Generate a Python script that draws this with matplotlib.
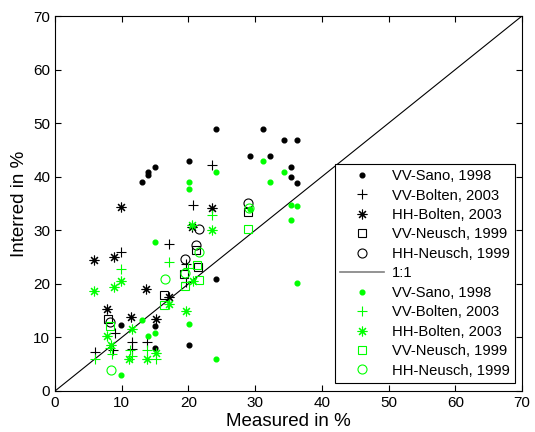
import matplotlib
matplotlib.use("Agg")
import matplotlib.pyplot as plt
import numpy as np

plt.rcParams['font.family'] = ['Liberation Sans', 'DejaVu Sans']

# ---- data (Measured %, Inferred %) ----
vv_sano_k = [(13.0,39.0),(14.0,40.8),(14.0,40.4),(14.95,41.9),(20.05,42.9),(24.15,49.0),
             (31.2,49.0),(34.3,46.8),(36.3,46.8),(29.25,43.9),(32.2,43.9),(35.3,41.9),
             (35.3,39.9),(36.3,38.9),(9.85,12.4),(14.95,12.2),(14.95,8.1),(20.05,8.5),(24.15,20.9)]
vv_bolten_k = [(23.55,42.2),(20.65,34.7),(9.85,25.9),(17.15,27.5),(19.6,23.7),(19.65,20.3),
               (6.0,7.2),(8.75,7.7),(9.0,10.9),(11.6,9.2),(11.6,7.8),(13.8,9.2)]
hh_bolten_k = [(9.85,34.3),(23.5,34.1),(5.9,24.4),(8.8,25.0),(13.7,18.95),(7.85,15.3),
               (11.35,13.8),(15.2,13.4),(17.15,17.6),(20.55,30.65)]
vv_neusch_k = [(29.0,33.45),(8.0,13.5),(16.4,17.9),(21.2,26.3),(21.5,23.2),(19.4,21.9)]
hh_neusch_k = [(29.0,35.1),(21.6,30.2),(21.2,27.2),(19.5,24.6),(8.2,12.8)]

vv_sano_g = [(20.05,39.0),(20.05,37.8),(24.15,40.8),(31.2,42.9),(34.3,40.8),(32.2,39.0),
             (35.3,34.65),(36.3,34.5),(35.3,32.0),(14.95,27.9),(20.05,12.6),(24.15,6.05),
             (9.9,2.9),(13.0,13.3),(14.0,10.35),(14.95,10.9),(36.25,20.1),(29.2,34.0)]
vv_bolten_g = [(23.5,32.8),(17.15,24.1),(9.85,22.7),(6.0,6.05),(8.6,7.0),(8.3,8.0),
               (11.3,7.7),(11.5,6.5),(13.75,7.7),(15.2,6.05),(20.0,23.0)]
hh_bolten_g = [(20.55,31.0),(23.5,30.0),(5.9,18.7),(8.8,19.45),(9.85,20.5),(17.05,16.3),
               (19.65,14.95),(20.65,20.5),(7.85,10.2),(11.55,11.65),(8.4,8.6),(11.15,6.0),
               (13.75,6.0),(15.2,7.1)]
vv_neusch_g = [(29.0,30.3),(8.25,12.2),(16.35,16.0),(19.5,19.6),(21.6,20.8),(21.25,23.6)]
hh_neusch_g = [(16.45,20.9),(19.55,22.05),(21.6,26.0),(8.4,3.9),(29.1,34.2)]

one_to_one = [0, 70]
ticks = [0, 10, 20, 30, 40, 50, 60, 70]

fig = plt.figure(figsize=(5.35, 4.32), dpi=100)
ax = fig.add_axes([55/535, 1-391/432, 467/535, 375/432])

GREEN = (0, 1, 0)
ast = (8, 2, 0)

def pts(a):
    a = np.array(a)
    return a[:, 0], a[:, 1]

styles = [
    (vv_sano_k, 'k', 'o', 3.4, 'VV-Sano, 1998'),
    (vv_bolten_k, 'k', '+', 7, 'VV-Bolten, 2003'),
    (hh_bolten_k, 'k', ast, 7, 'HH-Bolten, 2003'),
    (vv_neusch_k, 'k', 's', 6, 'VV-Neusch, 1999'),
    (hh_neusch_k, 'k', 'o', 6.5, 'HH-Neusch, 1999'),
]
for data, c, m, ms, lab in styles:
    x, y = pts(data)
    if m == 'o' and ms < 4:
        ax.plot(x, y, ls='none', marker='o', ms=ms, mfc=c, mec=c, label=lab)
    else:
        ax.plot(x, y, ls='none', marker=m, ms=ms, mfc='none', mec=c, mew=0.8, label=lab)

ax.plot(one_to_one, one_to_one, color='k', lw=0.8, label='1:1')

styles_g = [
    (vv_sano_g, GREEN, 'o', 3.4, 'VV-Sano, 1998'),
    (vv_bolten_g, GREEN, '+', 7, 'VV-Bolten, 2003'),
    (hh_bolten_g, GREEN, ast, 7, 'HH-Bolten, 2003'),
    (vv_neusch_g, GREEN, 's', 6, 'VV-Neusch, 1999'),
    (hh_neusch_g, GREEN, 'o', 6.5, 'HH-Neusch, 1999'),
]
for data, c, m, ms, lab in styles_g:
    x, y = pts(data)
    if m == 'o' and ms < 4:
        ax.plot(x, y, ls='none', marker='o', ms=ms, mfc=c, mec=c, label=lab)
    else:
        ax.plot(x, y, ls='none', marker=m, ms=ms, mfc='none', mec=c, mew=0.8, label=lab)

ax.set_xlim(0, 70)
ax.set_ylim(0, 70)
ax.set_xticks(ticks)
ax.set_yticks(ticks)
ax.tick_params(direction='in', top=True, right=True, length=4, labelsize=11, width=0.8)
for s in ax.spines.values():
    s.set_linewidth(0.8)
ax.set_xlabel('Measured in %', fontsize=13.5, labelpad=2)
ax.set_ylabel('Interred in %', fontsize=13.5, labelpad=4)

leg = ax.legend(loc='upper left', bbox_to_anchor=(335/535, 1-164/432),
                bbox_transform=fig.transFigure, fontsize=10.6, frameon=True,
                fancybox=False, edgecolor='k', framealpha=1, borderaxespad=0,
                handlelength=3.0, handletextpad=0.5, labelspacing=0.37,
                borderpad=0.35, numpoints=1)
leg.get_frame().set_linewidth(0.8)
leg.get_lines()[5].set_color('gray')
leg.get_lines()[5].set_linewidth(1.2)

fig.savefig('out.png', dpi=100)
